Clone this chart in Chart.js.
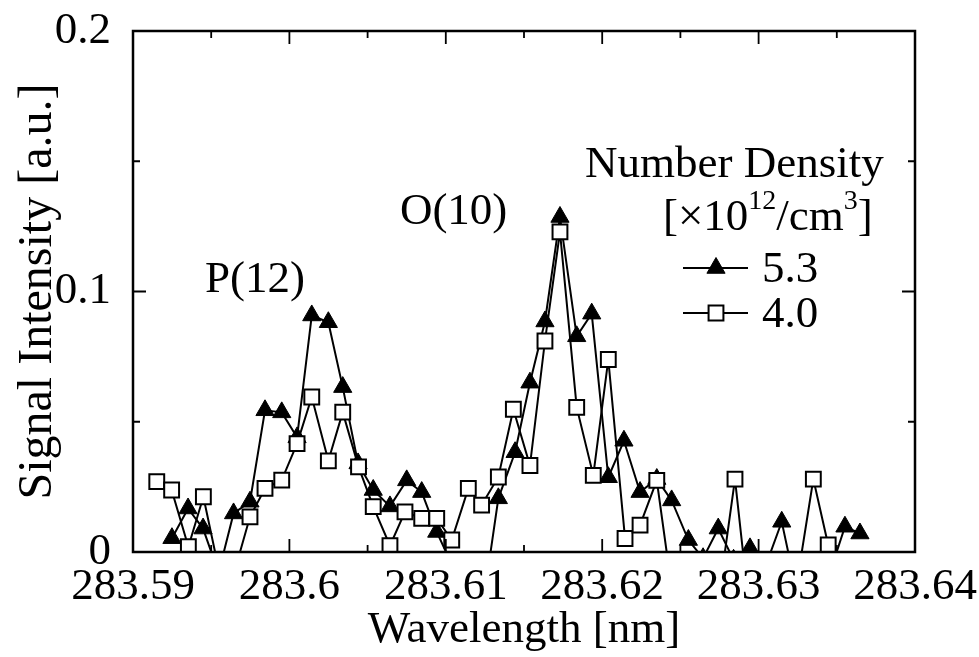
<!DOCTYPE html>
<html>
<head>
<meta charset="utf-8">
<script src="https://cdn.jsdelivr.net/npm/chart.js@4.4.1/dist/chart.umd.min.js"></script>
<style>
html, body { margin: 0; padding: 0; background: #fff; }
#wrap { width: 979px; height: 657px; }
</style>
</head>
<body>
<div id="wrap"><canvas id="chart" width="979" height="657"></canvas></div>
<script>
// 5.3 x10^12/cm^3 (filled triangles)
const wavelength53 = [
    283.59249, 283.59352, 283.59448, 283.59547, 283.59643, 283.59748, 283.59844, 283.59951,
    283.60049, 283.60143, 283.60249, 283.60341, 283.60439, 283.60536, 283.60643, 283.60750,
    283.60846, 283.60942, 283.61040, 283.61136, 283.61238, 283.61336, 283.61443, 283.61538,
    283.61634, 283.61730, 283.61837, 283.61933, 283.62039, 283.62139, 283.62242, 283.62349,
    283.62444, 283.62551, 283.62645, 283.62742, 283.62840, 283.62945, 283.63041, 283.63148,
    283.63246, 283.63348, 283.63450, 283.63552, 283.63648
];
const intensity53 = [
    0.0053, 0.0167, 0.0090, -0.0080, 0.0148, 0.0193, 0.0544, 0.0536,
    0.0440, 0.0908, 0.0882, 0.0633, 0.0340, 0.0238, 0.0175, 0.0275,
    0.0230, 0.0077, -0.0050, -0.0100, -0.0200, 0.0206, 0.0383, 0.0650,
    0.0885, 0.1286, 0.0828, 0.0915, 0.0287, 0.0427, 0.0230, 0.0280,
    0.0198, 0.0046, -0.0024, 0.0090, -0.0030, 0.0014, -0.0060, 0.0116,
    -0.0160, -0.0100, -0.0090, 0.0097, 0.0071
];

// 4.0 x10^12/cm^3 (open squares)
const wavelength40 = [
    283.59152, 283.59247, 283.59354, 283.59450, 283.59547, 283.59646, 283.59748, 283.59844,
    283.59951, 283.60049, 283.60143, 283.60249, 283.60341, 283.60442, 283.60536, 283.60643,
    283.60739, 283.60846, 283.60942, 283.61038, 283.61144, 283.61229, 283.61336, 283.61432,
    283.61538, 283.61634, 283.61730, 283.61837, 283.61943, 283.62039, 283.62146, 283.62242,
    283.62349, 283.62444, 283.62549, 283.62645, 283.62743, 283.62849, 283.62945, 283.63047,
    283.63148, 283.63246, 283.63350, 283.63445
];
const intensity40 = [
    0.0270, 0.0238, 0.0020, 0.0212, -0.0063, -0.0081, 0.0135, 0.0244,
    0.0276, 0.0416, 0.0595, 0.0350, 0.0537, 0.0327, 0.0174, 0.0024,
    0.0154, 0.0129, 0.0129, 0.0046, 0.0244, 0.0180, 0.0288, 0.0548,
    0.0332, 0.0810, 0.1229, 0.0555, 0.0294, 0.0739, 0.0052, 0.0103,
    0.0275, -0.0138, -0.0150, -0.0200, -0.0180, 0.0280, -0.0245, -0.0150,
    -0.0200, -0.0114, 0.0280, 0.0027
];

const xTicks = [283.59, 283.6, 283.61, 283.62, 283.63, 283.64];
const yTicks = [0, 0.1, 0.2];
const seriesLabels = ['5.3', '4.0'];
const legendTitle = 'Number Density';
const peakLabels = [
    { text: 'P(12)', x: 283.5978, y: 0.1042 },
    { text: 'O(10)', x: 283.6105, y: 0.1303 }
];

const serif = '"Liberation Serif", "DejaVu Serif", serif';
const fontSize = 45;

function toPoints(xs, ys) {
    return xs.map((x, i) => ({ x: x, y: ys[i] }));
}

// frame, inward ticks, peak names and the legend block
const decorations = {
    id: 'decorations',
    afterDraw(chart) {
        const { ctx, chartArea: a, scales: { x, y } } = chart;
        ctx.save();
        ctx.strokeStyle = '#000';
        ctx.fillStyle = '#000';

        ctx.lineWidth = 2.5;
        ctx.strokeRect(a.left, a.top, a.right - a.left, a.bottom - a.top);

        ctx.lineWidth = 1.8;
        ctx.beginPath();
        const xMinor = [];
        for (let i = 0; i < xTicks.length - 1; i++) xMinor.push((xTicks[i] + xTicks[i + 1]) / 2);
        xTicks.forEach(v => {
            const px = x.getPixelForValue(v);
            ctx.moveTo(px, a.bottom); ctx.lineTo(px, a.bottom - 13);
            ctx.moveTo(px, a.top); ctx.lineTo(px, a.top + 13);
        });
        xMinor.forEach(v => {
            const px = x.getPixelForValue(v);
            ctx.moveTo(px, a.bottom); ctx.lineTo(px, a.bottom - 7);
            ctx.moveTo(px, a.top); ctx.lineTo(px, a.top + 7);
        });
        const yMinor = [];
        for (let i = 0; i < yTicks.length - 1; i++) yMinor.push((yTicks[i] + yTicks[i + 1]) / 2);
        yTicks.forEach(v => {
            const py = y.getPixelForValue(v);
            ctx.moveTo(a.left, py); ctx.lineTo(a.left + 13, py);
            ctx.moveTo(a.right, py); ctx.lineTo(a.right - 13, py);
        });
        yMinor.forEach(v => {
            const py = y.getPixelForValue(v);
            ctx.moveTo(a.left, py); ctx.lineTo(a.left + 7, py);
            ctx.moveTo(a.right, py); ctx.lineTo(a.right - 7, py);
        });
        ctx.stroke();

        // peak names
        ctx.font = fontSize + 'px ' + serif;
        ctx.textAlign = 'center';
        ctx.textBaseline = 'middle';
        peakLabels.forEach(p => {
            ctx.fillText(p.text, x.getPixelForValue(p.x), y.getPixelForValue(p.y));
        });

        // legend title
        ctx.textAlign = 'left';
        ctx.textBaseline = 'alphabetic';
        ctx.fillText(legendTitle, 585, 177);
        let cx = 663;
        const base = 230;
        const parts = [['[\u00d710', 0], ['12', 1], ['/cm', 0], ['3', 1], [']', 0]];
        parts.forEach(([t, sup]) => {
            ctx.font = (sup ? 28 : fontSize) + 'px ' + serif;
            ctx.fillText(t, cx, sup ? base - 21 : base);
            cx += ctx.measureText(t).width;
        });

        // legend rows, styles taken from the datasets
        ctx.font = fontSize + 'px ' + serif;
        chart.data.datasets.forEach((ds) => {
            const ly = 268 + ds.legendRow * 45;
            ctx.lineWidth = ds.borderWidth;
            ctx.strokeStyle = ds.borderColor;
            ctx.beginPath();
            ctx.moveTo(683, ly); ctx.lineTo(748, ly);
            ctx.stroke();
            ctx.fillStyle = ds.pointBackgroundColor;
            ctx.strokeStyle = ds.pointBorderColor;
            ctx.lineWidth = ds.pointBorderWidth;
            Chart.helpers.drawPoint(ctx, {
                pointStyle: ds.pointStyle,
                radius: ds.pointRadius,
                borderWidth: ds.pointBorderWidth
            }, 716, ly);
            ctx.fillStyle = '#000';
            ctx.textBaseline = 'middle';
            ctx.fillText(ds.label, 762, ly + 2);
        });
        ctx.restore();
    }
};

const ctx = document.getElementById('chart').getContext('2d');

new Chart(ctx, {
    type: 'line',
    data: {
        datasets: [
            {
                label: seriesLabels[1],
                legendRow: 1,
                data: toPoints(wavelength40, intensity40),
                borderColor: '#000',
                borderWidth: 2,
                pointStyle: 'rect',
                pointRadius: 10.5,
                pointBorderWidth: 2,
                pointBackgroundColor: '#fff',
                pointBorderColor: '#000',
                clip: 0,
                order: 0
            },
            {
                label: seriesLabels[0],
                legendRow: 0,
                data: toPoints(wavelength53, intensity53),
                borderColor: '#000',
                borderWidth: 2,
                pointStyle: 'triangle',
                pointRadius: 10.5,
                pointBorderWidth: 1,
                pointBackgroundColor: '#000',
                pointBorderColor: '#000',
                clip: 0,
                order: 1
            }
        ]
    },
    options: {
        responsive: false,
        animation: false,
        events: [],
        layout: { padding: { top: 31, right: 64, left: 0, bottom: 0 } },
        plugins: {
            legend: { display: false },
            tooltip: { enabled: false }
        },
        scales: {
            x: {
                type: 'linear',
                min: 283.59,
                max: 283.64,
                afterBuildTicks: (scale) => { scale.ticks = xTicks.map(v => ({ value: v })); },
                afterFit: (scale) => {
                    scale.height = 105;
                    scale.paddingLeft = 0;
                    scale.paddingRight = 0;
                },
                grid: { display: false },
                border: { display: false },
                ticks: {
                    color: '#000',
                    font: { family: serif, size: fontSize },
                    padding: 0,
                    maxRotation: 0,
                    callback: (v) => String(Number(v.toFixed(2)))
                },
                title: {
                    display: true,
                    text: 'Wavelength [nm]',
                    color: '#000',
                    font: { family: serif, size: fontSize },
                    padding: { top: 3, bottom: 0 }
                }
            },
            y: {
                type: 'linear',
                min: 0,
                max: 0.2,
                afterBuildTicks: (scale) => { scale.ticks = yTicks.map(v => ({ value: v })); },
                afterFit: (scale) => {
                    scale.width = 133;
                    scale.paddingTop = 0;
                    scale.paddingBottom = 0;
                },
                grid: { display: false },
                border: { display: false },
                ticks: {
                    color: '#000',
                    font: { family: serif, size: fontSize },
                    padding: 14,
                    callback: (v) => String(Number(v.toFixed(1)))
                },
                title: {
                    display: true,
                    text: 'Signal Intensity [a.u.]',
                    color: '#000',
                    font: { family: serif, size: 48 },
                    padding: { top: 10, bottom: 0 }
                }
            }
        }
    },
    plugins: [decorations]
});
</script>
</body>
</html>
